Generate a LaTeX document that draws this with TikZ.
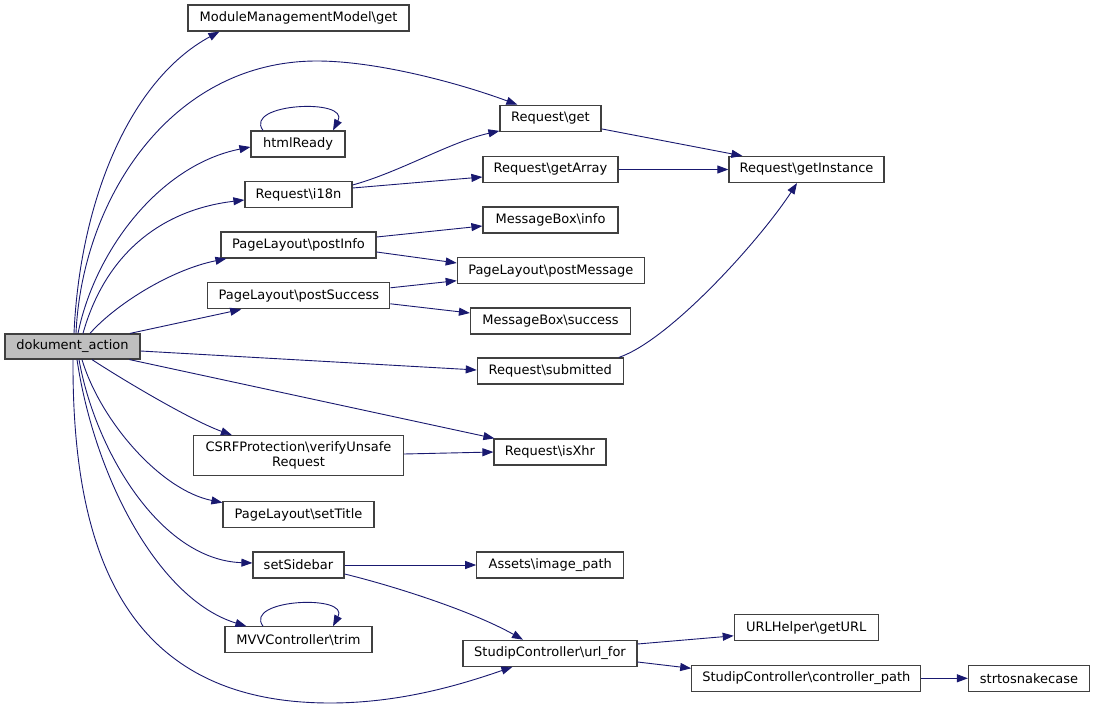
\documentclass[tikz,border=0pt]{standalone}
\usepackage{fontspec}
\setmainfont{DejaVu Sans}
\usetikzlibrary{arrows.meta}
\definecolor{edgeblue}{HTML}{191970}
\definecolor{nodeborder}{HTML}{404040}
\definecolor{curfill}{HTML}{BFBFBF}
\newcommand{\bs}{\textbackslash}
\begin{document}
\begin{tikzpicture}[x=1bp,y=-1bp,
  fn/.style={draw=nodeborder,line width=1.2bp,fill=white,inner sep=0pt,minimum height=26bp,
    font=\fontsize{13bp}{15bp}\selectfont,anchor=center},
  call/.style={draw=edgeblue,line width=0.9bp,-{Triangle[length=11bp,width=8bp]},fill=none},
  calltip/.style={edgeblue}]
\useasboundingbox (0,0) rectangle (1095,709);
\fill[white] (0,0) rectangle (1095,709);
% nodes
\node[fn,fill=curfill,minimum width=135bp,minimum height=25bp] (dok) at (72.5,346.5) {dokument\_action};
\node[fn,minimum width=221bp] (mmm) at (298.5,18) {ModuleManagementModel\bs get};
\node[fn,minimum width=101bp] (reqget) at (550.5,118.3) {Request\bs get};
\node[fn,minimum width=94bp] (html) at (298,144) {htmlReady};
\node[fn,minimum width=135bp] (getarr) at (550.5,169.5) {Request\bs getArray};
\node[fn,minimum width=155bp] (getinst) at (806.5,169.5) {Request\bs getInstance};
\node[fn,minimum width=107bp] (i18n) at (298.5,194.5) {Request\bs i18n};
\node[fn,minimum width=135bp] (info) at (550.5,220) {MessageBox\bs info};
\node[fn,minimum width=155bp] (postinfo) at (298.5,245) {PageLayout\bs postInfo};
\node[fn,minimum width=187bp] (postmsg) at (550.8,270.7) {PageLayout\bs postMessage};
\node[fn,minimum width=182bp] (postsucc) at (298.8,295.8) {PageLayout\bs postSuccess};
\node[fn,minimum width=160bp] (success) at (550.5,321) {MessageBox\bs success};
\node[fn,minimum width=146bp] (submitted) at (550.3,371) {Request\bs submitted};
\node[fn,minimum width=210bp,minimum height=40bp,align=center] (csrf) at (298.5,455.7) {CSRFProtection\bs verifyUnsafe\\Request};
\node[fn,minimum width=112bp] (isxhr) at (550,452) {Request\bs isXhr};
\node[fn,minimum width=151bp] (settitle) at (298.5,514.7) {PageLayout\bs setTitle};
\node[fn,minimum width=91bp] (sidebar) at (298.5,565) {setSidebar};
\node[fn,minimum width=147bp] (assets) at (550.3,565) {Assets\bs image\_path};
\node[fn,minimum width=147bp] (trim) at (298.5,639.8) {MVVController\bs trim};
\node[fn,minimum width=174bp] (urlfor) at (550,653.3) {StudipController\bs url\_for};
\node[fn,minimum width=144bp] (geturl) at (806.3,627.8) {URLHelper\bs getURL};
\node[fn,minimum width=229bp] (ctrlpath) at (806.3,678.3) {StudipController\bs controller\_path};
\node[fn,minimum width=121bp] (snake) at (1029,678.3) {strtosnakecase};
% edges from dokument_action
\draw[call] ([xshift=1.5bp]dok.north) .. controls (80,200) and (130,80) .. ([xshift=32bp]mmm.south west);
\draw[call] ([xshift=3.5bp]dok.north) .. controls (82,200) and (170,61) .. (317,61) .. controls (375,61) and (456,82) .. ([xshift=18bp]reqget.north west);
\draw[call] ([xshift=5.5bp]dok.north) .. controls (95,250) and (160,165) .. ([yshift=-3bp]html.west);
\draw[call] ([xshift=10.5bp]dok.north) .. controls (105,255) and (160,210) .. ([yshift=-5.5bp]i18n.west);
\draw[call] ([xshift=17.5bp]dok.north) .. controls (115,305) and (170,270) .. ([xshift=6bp]postinfo.south west);
\draw[call] ([xshift=57.5bp]dok.north) -- ([xshift=34bp]postsucc.south west);
\draw[call] ([yshift=-4.5bp]dok.east) -- ([yshift=1bp]submitted.west);
\draw[call] ([xshift=57bp]dok.south) -- ([xshift=1bp]isxhr.north west);
\draw[call] ([xshift=19.5bp]dok.south) .. controls (120,378) and (190,420) .. ([xshift=39bp]csrf.north west);
\draw[call] ([xshift=9.5bp]dok.south) .. controls (100,420) and (160,490) .. ([yshift=-1.5bp]settitle.north west);
\draw[call] ([xshift=6.5bp]dok.south) .. controls (95,450) and (160,560) .. ([yshift=2bp]sidebar.west);
\draw[call] ([xshift=4.5bp]dok.south) .. controls (95,480) and (160,600) .. ([xshift=22bp]trim.north west);
\draw[call] ([xshift=0.5bp]dok.south) .. controls (72,560) and (130,703) .. (330,703) .. controls (400,703) and (460,685) .. ([xshift=50bp]urlfor.south west);
% self loops
\draw[call] ([xshift=-35bp]html.north) .. controls (243,103) and (350,98) .. ([xshift=35bp]html.north);
\draw[call] ([xshift=-35.5bp]trim.north) .. controls (243,599) and (350,594) .. ([xshift=34.5bp]trim.north);
% other edges
\draw[call] ([yshift=9.5bp]i18n.east) .. controls (400,172) and (450,142) .. ([yshift=1bp]reqget.south west);
\draw[call] ([yshift=6.5bp]i18n.east) -- ([yshift=-7.5bp]getarr.west);
\draw[call] ([yshift=3bp]reqget.south east) -- ([xshift=14bp]getinst.north west);
\draw[call] (getarr.east) -- (getinst.west);
\draw[call] ([yshift=8bp]postinfo.east) -- ([yshift=-6bp]info.west);
\draw[call] ([yshift=-7bp]postinfo.east) -- ([yshift=7.7bp]postmsg.west);
\draw[call] ([yshift=8bp]postsucc.east) -- ([yshift=-10bp]postmsg.west);
\draw[call] ([yshift=-8bp]postsucc.east) -- ([yshift=8bp]success.west);
\draw[call] ([xshift=-5bp]submitted.north east) .. controls (670,340) and (760,240) .. ([xshift=-9.5bp]getinst.south);
\draw[call] ([yshift=1.7bp]csrf.east) -- (isxhr.west);
\draw[call] (sidebar.east) -- (assets.west);
\draw[call] ([yshift=-9bp]sidebar.east) .. controls (390,585) and (470,610) .. ([xshift=-27bp]urlfor.north);
\draw[call] ([yshift=9.3bp]urlfor.east) -- ([yshift=-8bp]geturl.west);
\draw[call] ([yshift=-8.7bp]urlfor.east) -- ([yshift=10bp]ctrlpath.west);
\draw[call] (ctrlpath.east) -- (snake.west);
\end{tikzpicture}
\end{document}
